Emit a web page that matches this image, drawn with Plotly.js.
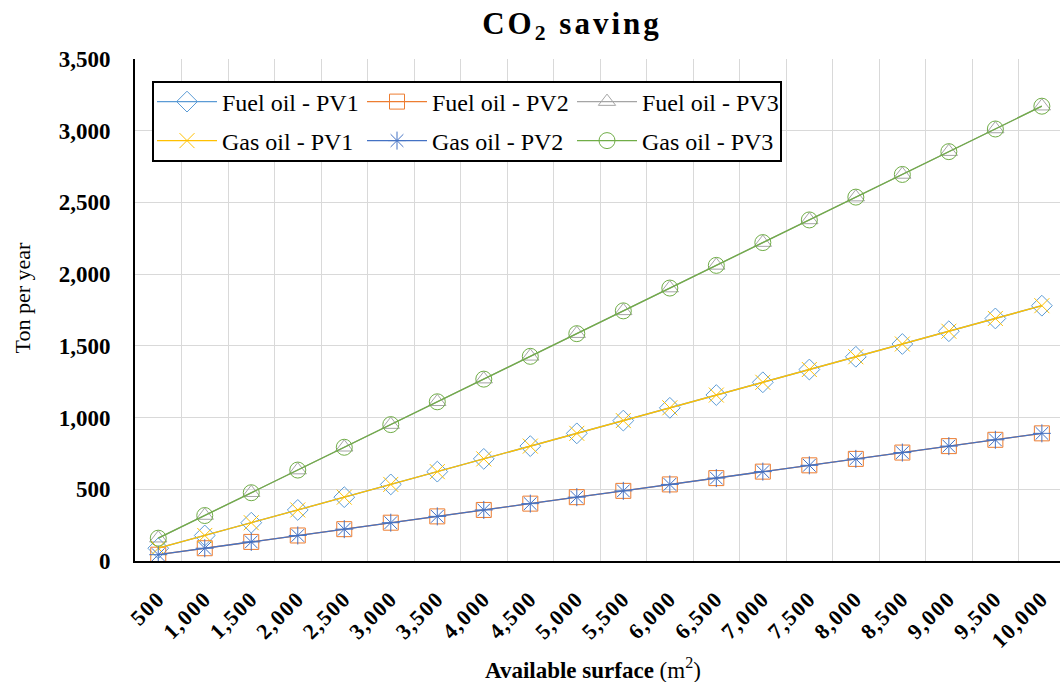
<!DOCTYPE html>
<html>
<head>
<meta charset="utf-8">
<script src="https://cdn.plot.ly/plotly-3.0.1.min.js"></script>
<style>
body{margin:0;padding:0;background:#fff;}
#chart{width:1060px;height:682px;}
.gtitle{letter-spacing:3px;}
.xtick text{letter-spacing:1.5px;}
</style>
</head>
<body>
<div id="chart"></div>
<script>
const categories = ["500","1,000","1,500","2,000","2,500","3,000","3,500","4,000","4,500","5,000","5,500","6,000","6,500","7,000","7,500","8,000","8,500","9,000","9,500","10,000"];
const fuelOilPV1 = [89,178,267,356,445,534,623,712,801,890,979,1068,1157,1246,1335,1424,1513,1602,1691,1780];
const fuelOilPV2 = [44,89,133,178,222,267,311,356,400,445,489,534,578,623,667,712,756,801,845,890];
const fuelOilPV3 = [159,317,476,634,793,951,1110,1268,1427,1585,1744,1903,2061,2220,2378,2537,2695,2854,3012,3171];
const gasOilPV1 = [89,178,267,356,445,534,623,712,801,890,979,1068,1157,1246,1335,1424,1513,1602,1691,1780];
const gasOilPV2 = [44,89,133,178,222,267,311,356,400,445,489,534,578,623,667,712,756,801,845,890];
const gasOilPV3 = [159,317,476,634,793,951,1110,1268,1427,1585,1744,1903,2061,2220,2378,2537,2695,2854,3012,3171];
const yTicks = [0,500,1000,1500,2000,2500,3000,3500];

function tr(name, y, color, symbol, size, legend){
  return {x: categories, y: y, name: name, type:'scatter', mode:'lines+markers',
    line:{color:color, width:1.3},
    marker:{symbol:symbol, size:size, color:color, line:{color:color, width:1}},
    legend: legend};
}
const data = [
  tr('Fuel oil - PV1', fuelOilPV1, '#5B9BD5', 'diamond-open', 16, 'legend'),
  tr('Fuel oil - PV2', fuelOilPV2, '#ED7D31', 'square-open', 15, 'legend'),
  tr('Fuel oil - PV3', fuelOilPV3, '#A5A5A5', 'triangle-up-open', 15, 'legend'),
  tr('Gas oil - PV1', gasOilPV1, '#FFC000', 'x-thin-open', 15, 'legend2'),
  tr('Gas oil - PV2', gasOilPV2, '#4472C4', 'asterisk-open', 15, 'legend2'),
  tr('Gas oil - PV3', gasOilPV3, '#70AD47', 'circle-open', 16, 'legend2')
];
const serif = 'Liberation Serif, Times New Roman, Tinos, DejaVu Serif, Noto Serif, serif';
const legendCommon = {orientation:'h', xref:'container', yref:'container', x:152/1060, xanchor:'left', yanchor:'middle',
  bgcolor:'rgba(0,0,0,0)', borderwidth:0, font:{family:serif, size:24, color:'#000'}, entrywidth:135, itemwidth:60,
  traceorder:'normal'};
const layout = {
  width:1060, height:682,
  margin:{l:135, r:0, t:59, b:121, autoexpand:false},
  paper_bgcolor:'#fff', plot_bgcolor:'#fff',
  showlegend:true,
  font:{family:serif},
  title:{text:'<b>CO<sub>2</sub> saving</b>', font:{family:serif, size:31, color:'#000'}, xref:'container', x:572/1060, xanchor:'center', yref:'container', y:1-23/682, yanchor:'middle'},
  xaxis:{type:'category', range:[-0.5,19.39], tickson:'boundaries', showgrid:true, gridcolor:'#D9D9D9', gridwidth:1,
    showline:true, linecolor:'#000', linewidth:2, ticks:'', tickangle:-45, ticklabelstandoff:14,
    tickfont:{family:serif, size:22, color:'#000', weight:'bold'}, fixedrange:true},
  yaxis:{range:[0,3500], tickvals:yTicks, tickformat:',', showgrid:true, gridcolor:'#D9D9D9', gridwidth:1,
    showline:true, linecolor:'#000', linewidth:2, ticks:'', zeroline:false, ticklabelstandoff:18,
    tickfont:{family:serif, size:23, color:'#000', weight:'bold'}},
  annotations:[
    {text:'Ton per year', xref:'paper', yref:'paper', x:-(135-21.5)/925, y:(561-298)/502, xanchor:'center', yanchor:'middle', textangle:-90, showarrow:false, font:{family:serif, size:22, color:'#000'}},
    {text:'<b>Available surface</b> (m<sup>2</sup>)', xref:'paper', yref:'paper', x:(593-135)/925, y:-(668-561)/502, xanchor:'center', yanchor:'middle', showarrow:false, font:{family:serif, size:23, color:'#000'}}
  ],
  legend: Object.assign({}, legendCommon, {y:1-102/682}),
  legend2: Object.assign({}, legendCommon, {y:1-141/682}),
  shapes:[{type:'rect', xref:'paper', yref:'paper', layer:'above',
    x0:(153-135)/925, x1:(781-135)/925, y0:(561-161)/502, y1:(561-82)/502,
    line:{color:'#000', width:2}, fillcolor:'#fff'}]
};
Plotly.newPlot('chart', data, layout, {displayModeBar:false, staticPlot:true});
</script>
</body>
</html>
